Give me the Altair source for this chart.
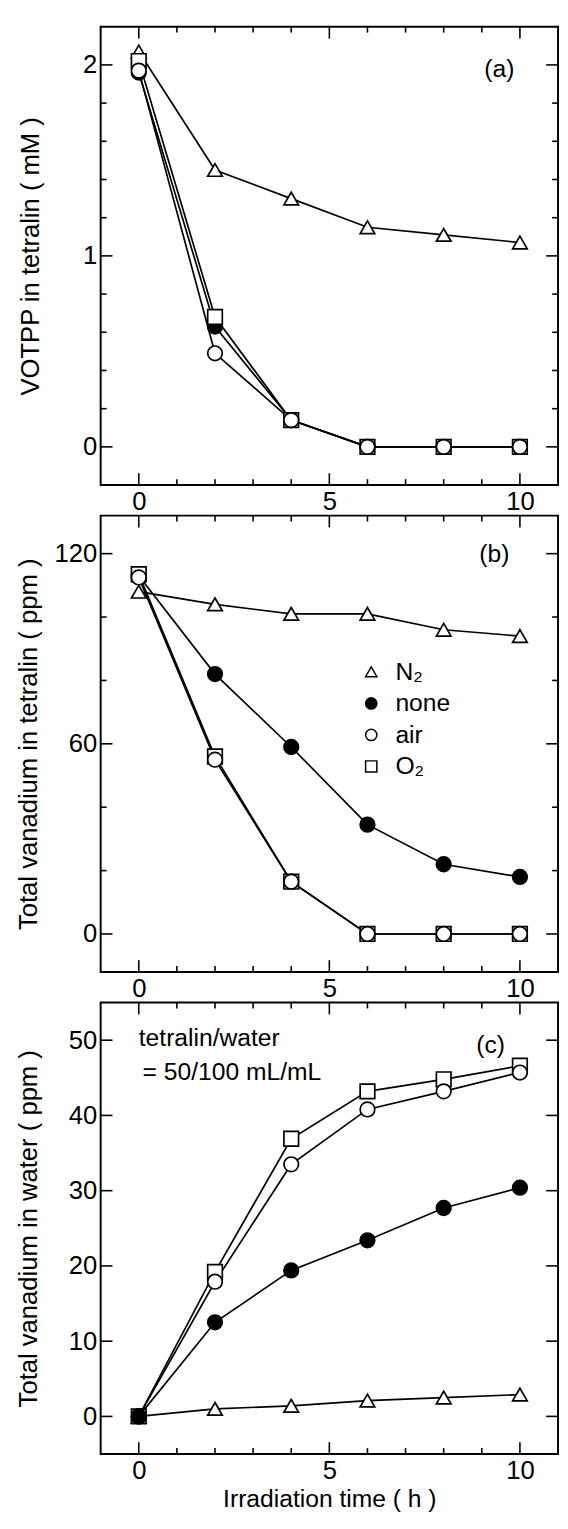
import altair as alt
import pandas as pd

FONT = "Liberation Sans"

# ---------------- data ----------------
times = [0, 2, 4, 6, 8, 10]
series_order = ["N₂", "none", "air", "O₂"]
shapes = ["triangle-up", "circle", "circle", "square"]
fills = ["white", "black", "white", "white"]
strokes = ["black", "black", "black", "black"]
# drawing order (later = on top) per panel
a_draw_order = ["N₂", "none", "O₂", "air"]
b_draw_order = ["N₂", "none", "O₂", "air"]
c_draw_order = ["N₂", "O₂", "air", "none"]

# (a) VOTPP in tetralin (mM)
a_N2 = [2.07, 1.45, 1.30, 1.15, 1.11, 1.07]
a_none = [1.96, 0.63, 0.14, 0.0, 0.0, 0.0]
a_air = [1.97, 0.49, 0.14, 0.0, 0.0, 0.0]
a_O2 = [2.02, 0.68, 0.14, 0.0, 0.0, 0.0]

# (b) Total vanadium in tetralin (ppm)
b_N2 = [108, 104, 101, 101, 96, 94]
b_none = [113, 82, 59, 34.5, 22, 18]
b_air = [112.5, 55, 16.5, 0, 0, 0]
b_O2 = [113.5, 56, 16.5, 0, 0, 0]

# (c) Total vanadium in water (ppm)
c_N2 = [0, 1.0, 1.4, 2.1, 2.5, 2.9]
c_none = [0, 12.5, 19.4, 23.4, 27.7, 30.4]
c_air = [0, 17.9, 33.5, 40.8, 43.2, 45.7]
c_O2 = [0, 19.2, 36.9, 43.2, 44.8, 46.6]

# tick values
x_major = [0, 5, 10]
x_minor = [1, 2, 3, 4, 6, 7, 8, 9]
a_y_major = [0, 1, 2]
a_y_minor = [0.2, 0.4, 0.6, 0.8, 1.2, 1.4, 1.6, 1.8]
b_y_major = [0, 60, 120]
b_y_minor = [20, 40, 80, 100]
c_y_major = [0, 10, 20, 30, 40, 50]
c_y_minor = []

x_domain = [-1, 11]
a_y_domain = [-0.2, 2.2]
b_y_domain = [-12, 132]
c_y_domain = [-5, 55]

# annotations (data coordinates)
a_note_text = ["(a)"]
a_note_x = [9.46]
a_note_y = [1.98]
a_note_align = ["center"]
b_note_text = ["(b)"]
b_note_x = [9.33]
b_note_y = [120]
b_note_align = ["center"]
c_note_text = ["(c)", "tetralin/water", "= 50/100 mL/mL"]
c_note_x = [9.23, 0.0, 0.1]
c_note_y = [49.4, 50.3, 45.7]
c_note_align = ["center", "left", "left"]

W = 464
MAJ, MIN = 12, 6


def panel(vals, order, ydom, ymaj, ymin, ytitle, xtitle, H, notes, legend, title_x):
    rows = []
    for i, name in enumerate(order):
        for t, v in zip(times, vals[name]):
            rows.append({"t": t, "v": v, "series": name, "ord": i})
    df = pd.DataFrame(rows)

    xs = alt.Scale(domain=x_domain, nice=False, zero=False)
    ys = alt.Scale(domain=ydom, nice=False, zero=False)
    xaxis = alt.Axis(values=x_major, ticks=False, domain=False, grid=False,
                     labelFontSize=26, labelFont=FONT, labelPadding=4,
                     labelColor="black", format="d", title=xtitle,
                     titleFontSize=25, titleFont=FONT, titleFontWeight="normal",
                     titleColor="black", titlePadding=3)
    yaxis = alt.Axis(values=ymaj, ticks=False, domain=False, grid=False,
                     labelFontSize=26, labelFont=FONT, labelPadding=4,
                     labelColor="black", format="d", title=ytitle,
                     titleFontSize=26, titleFont=FONT, titleFontWeight="normal",
                     titleColor="black", titleX=title_x, titleBaseline="middle")
    X = alt.X("t:Q", scale=xs, axis=xaxis)
    Y = alt.Y("v:Q", scale=ys, axis=yaxis)

    layers = []
    # inward tick marks on all four sides
    for tv, L in ((x_major, MAJ), (x_minor, MIN)):
        base = alt.Chart(pd.DataFrame({"t": tv})).mark_rule(color="black", strokeWidth=1.6)
        layers.append(base.encode(x=X, y=alt.value(H), y2=alt.value(H - L)))
        layers.append(base.encode(x=X, y=alt.value(0), y2=alt.value(L)))
    for tv, L in ((ymaj, MAJ), (ymin, MIN)):
        if not tv:
            continue
        base = alt.Chart(pd.DataFrame({"v": tv})).mark_rule(color="black", strokeWidth=1.6)
        layers.append(base.encode(y=Y, x=alt.value(0), x2=alt.value(L)))
        layers.append(base.encode(y=Y, x=alt.value(W), x2=alt.value(W - L)))

    layers.append(alt.Chart(df).mark_line(color="black", strokeWidth=1.7).encode(
        x=X, y=Y, detail="series:N", order="t:Q"))

    shape_scale = alt.Scale(domain=series_order, range=shapes)
    fill_scale = alt.Scale(domain=series_order, range=fills)
    stroke_scale = alt.Scale(domain=series_order, range=strokes)
    layers.append(alt.Chart(df).mark_point(size=220, opacity=1, fillOpacity=1,
                                           strokeWidth=1.7).encode(
        x=X, y=Y,
        shape=alt.Shape("series:N", scale=shape_scale, legend=legend),
        fill=alt.Fill("series:N", scale=fill_scale, legend=legend),
        stroke=alt.Stroke("series:N", scale=stroke_scale, legend=legend),
        order=alt.Order("ord:Q")))

    texts, nx, ny, nal = notes
    for tx, xv, yv, al in zip(texts, nx, ny, nal):
        layers.append(alt.Chart(pd.DataFrame({"t": [xv], "v": [yv], "label": [tx]})).mark_text(
            align=al, baseline="middle", font=FONT, fontSize=25, color="black").encode(
            x=X, y=Y, text="label:N"))

    return alt.layer(*layers).properties(width=W, height=H)


leg_b = alt.Legend(title=None, orient="none", legendX=262, legendY=146,
                   symbolSize=130, symbolStrokeWidth=1.5,
                   labelFontSize=25, labelFont=FONT, labelColor="black",
                   rowPadding=6, labelOffset=12, padding=0)

pa = panel({"N₂": a_N2, "none": a_none, "air": a_air, "O₂": a_O2}, a_draw_order,
           a_y_domain, a_y_major, a_y_minor, "VOTPP in tetralin ( mM )", None, 465,
           (a_note_text, a_note_x, a_note_y, a_note_align), None, -71)
pb = panel({"N₂": b_N2, "none": b_none, "air": b_air, "O₂": b_O2}, b_draw_order,
           b_y_domain, b_y_major, b_y_minor, "Total vanadium in tetralin ( ppm )", None, 463,
           (b_note_text, b_note_x, b_note_y, b_note_align), leg_b, -73)
pc = panel({"N₂": c_N2, "none": c_none, "air": c_air, "O₂": c_O2}, c_draw_order,
           c_y_domain, c_y_major, c_y_minor, "Total vanadium in water ( ppm )",
           "Irradiation time ( h )", 458,
           (c_note_text, c_note_x, c_note_y, c_note_align), None, -73)

chart = alt.vconcat(pa, pb, pc, spacing=-3).resolve_scale(
    x="independent", y="independent", shape="independent", fill="independent",
    stroke="independent"
).resolve_legend(shape="independent", fill="independent", stroke="independent").properties(
    padding={"left": 6, "top": 6, "right": 0, "bottom": 0}
).configure_view(stroke="black", strokeWidth=2)

chart.save("out.html", embed_options={"renderer": "svg", "actions": False})
